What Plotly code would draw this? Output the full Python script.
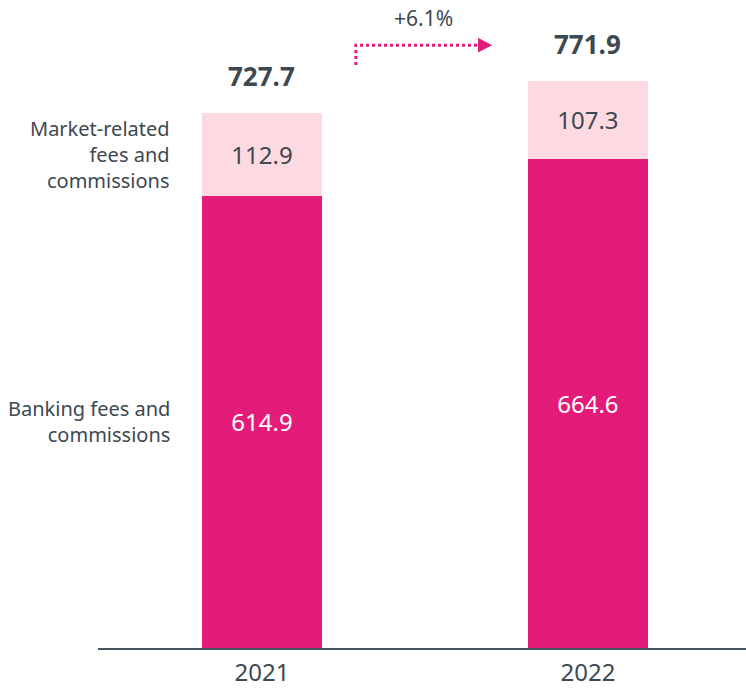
import plotly.graph_objects as go

years = ["2021", "2022"]
banking = [614.9, 664.6]
market = [112.9, 107.3]
totals = [727.7, 771.9]
growth_label = "+6.1%"
series_names = ["Banking fees and<br>commissions", "Market-related<br>fees and<br>commissions"]

DARK = "#E31C79"
LIGHT = "#FDD9E1"
TXT = "#3D4850"
FONT = "Noto Sans"

xs = [0, 1]

fig = go.Figure()
fig.add_trace(go.Bar(
    x=xs, y=banking, marker_color=DARK, width=0.368, marker_line_width=0,
    text=[f"{v:.1f}" for v in banking], textposition="inside",
    insidetextanchor="middle", textangle=0, constraintext="none",
    insidetextfont=dict(color="white", size=24, family=FONT),
    hoverinfo="skip", showlegend=False))
fig.add_trace(go.Bar(
    x=xs, y=market, marker_color=LIGHT, width=0.368, marker_line_width=0,
    text=[f"{v:.1f}" for v in market], textposition="inside",
    insidetextanchor="middle", textangle=0, constraintext="none",
    insidetextfont=dict(color=TXT, size=24, family=FONT),
    hoverinfo="skip", showlegend=False))

# totals
for x, t in zip(xs, totals):
    fig.add_annotation(x=x, y=t, text=f"<b>{t:.1f}</b>", showarrow=False,
                       yanchor="bottom", yshift=17,
                       font=dict(size=26, color=TXT, family=FONT))

# left series labels (aligned with 2021 segments)
fig.add_annotation(x=-0.276, y=banking[0] / 2, text=series_names[0], showarrow=False,
                   xanchor="right", align="right",
                   font=dict(size=20, color=TXT, family=FONT))
fig.add_annotation(x=-0.276, y=banking[0] + market[0] / 2, text=series_names[1],
                   showarrow=False, xanchor="right", align="right",
                   font=dict(size=20, color=TXT, family=FONT))

# growth arrow
y_top = 820
y_low = 793
fig.add_shape(type="path", xref="x", yref="y",
              path=f"M 0.288 {y_low} L 0.288 {y_top} L 0.665 {y_top}",
              line=dict(color=DARK, width=3, dash="dot"))
fig.add_shape(type="path", xref="x", yref="y",
              path=f"M 0.663 {y_top+10} L 0.706 {y_top} L 0.663 {y_top-10} Z",
              fillcolor=DARK, line=dict(color=DARK, width=0))
fig.add_annotation(x=0.495, y=y_top, text=growth_label, showarrow=False,
                   yanchor="bottom", yshift=11,
                   font=dict(size=21, color=TXT, family=FONT))

fig.update_layout(
    barmode="stack",
    width=746, height=690,
    margin=dict(l=98, r=0, t=0, b=42),
    paper_bgcolor="white", plot_bgcolor="white",
    xaxis=dict(range=[-0.503, 1.485], tickmode="array", tickvals=xs, ticktext=years,
               showgrid=False, zeroline=False, showline=True, linecolor="#4A555C",
               linewidth=2, ticks="", ticklabelstandoff=2, automargin=False,
               tickfont=dict(size=24, color=TXT, family=FONT)),
    yaxis=dict(range=[0, 881.4], visible=False, showgrid=False, zeroline=False,
               automargin=False),
)

fig.write_html("out.html", config={"displayModeBar": False},
               post_script="document.body.style.margin='0';")
